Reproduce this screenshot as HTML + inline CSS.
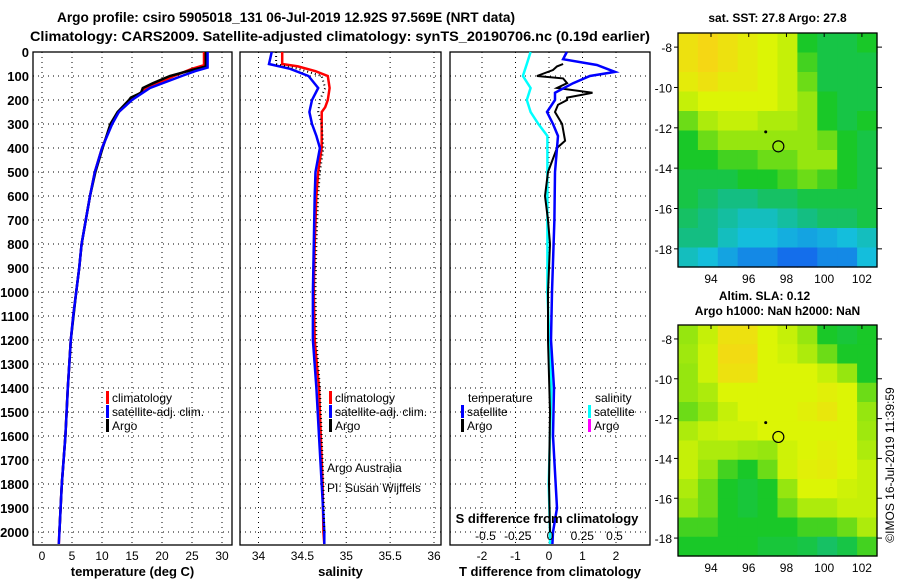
<!DOCTYPE html>
<html><head><meta charset="utf-8">
<style>
html,body{margin:0;padding:0;background:#fff;}
svg{display:block;font-family:"Liberation Sans",sans-serif;}
.b{font-weight:bold;font-size:13px;}
.l{font-size:12px;}
</style></head>
<body>
<svg id="chart" width="900" height="580" viewBox="0 0 900 580" xmlns="http://www.w3.org/2000/svg">
<text class="b" x="286" y="22" text-anchor="middle" textLength="458" lengthAdjust="spacingAndGlyphs" style="font-size:14px">Argo profile: csiro 5905018_131 06-Jul-2019 12.92S 97.569E (NRT data)</text>
<text class="b" x="340" y="41" text-anchor="middle" textLength="620" lengthAdjust="spacingAndGlyphs" style="font-size:14px">Climatology: CARS2009. Satellite-adjusted climatology: synTS_20190706.nc (0.19d earlier)</text>
<g id="g"></g>
</svg>
<script>
// ---- data ----
const depthTicks=[0,100,200,300,400,500,600,700,800,900,1000,1100,1200,1300,1400,1500,1600,1700,1800,1900,2000];
const tempTicks=[0,5,10,15,20,25,30];
const salTicks=[34,34.5,35,35.5,36];
const tdiffTicks=[-2,-1,0,1,2];
const sdiffTicks=[-0.5,-0.25,0,0.25,0.5];
const sdiffLabels=["-0.5","-0.25","0","0.25","0.5"];
const tClimD=[0,55,70,100,150,200,250,300,400,500,600,700,800,900,1000,1100,1200,1400,1600,1800,2000,2050];
const tClim=[27,27,25,22,17.5,14.8,12.8,11.6,10,8.8,8,7.3,6.6,6.2,5.7,5.2,4.8,4.3,3.9,3.3,2.9,2.8];
const tSatD=[0,65,80,100,150,200,250,300,400,500,600,700,800,900,1000,1100,1200,1400,1600,1800,2000,2050];
const tSat=[27.6,27.6,25.5,23.3,18,15,12.8,11.7,10,8.8,8,7.3,6.6,6.2,5.7,5.2,4.8,4.3,3.9,3.3,2.9,2.8];
const tArgoD=[0,60,75,100,130,150,170,190,200,250,300,370,400,500,600,700,800,900,1000,1200,1400,1600,1800,2000];
const tArgo=[27.3,27.3,25,21.3,18.5,16.8,16.5,14.8,14.5,12.6,11.4,10.5,10.1,8.9,8.0,7.3,6.6,6.2,5.7,4.8,4.3,3.9,3.3,2.9];
const sClimD=[0,50,60,80,100,150,200,230,250,300,400,500,600,800,1000,1200,1400,1600,1800,2000,2050];
const sClim=[34.27,34.27,34.45,34.65,34.79,34.81,34.79,34.76,34.72,34.72,34.72,34.68,34.66,34.64,34.63,34.64,34.69,34.71,34.73,34.74,34.75];
const sSatD=[0,50,70,100,150,200,250,300,350,400,500,600,800,1000,1200,1400,1600,1800,2000,2050];
const sSat=[34.15,34.12,34.36,34.57,34.68,34.61,34.58,34.61,34.66,34.7,34.65,34.64,34.63,34.62,34.62,34.66,34.69,34.72,34.75,34.75];
const sArgoD=[0,50,70,100,150,200,250,300,400,500,600,800,1000,1200,1400,1600,1800,2000];
const sArgo=[34.2,34.2,34.45,34.72,34.76,34.7,34.68,34.72,34.74,34.7,34.68,34.66,34.65,34.66,34.7,34.72,34.74,34.75];
const dTSatD=[0,30,54,83,100,130,170,200,250,300,350,400,500,700,1000,1200,1400,1600,1900,2000,2050];
const dTSat=[0.53,0.42,1.43,1.97,1.22,0.72,0.18,0.18,-0.06,0.12,0.27,0.24,0.18,0.16,0.09,0.06,0.15,0.12,0.24,0.12,0.1];
const dTArgoD=[50,60,75,100,110,130,150,170,190,200,220,250,300,370,400,500,600,700,800,1000,1200,1500,1800,2000];
const dTArgo=[0.42,0.24,0.12,-0.36,0.42,0.54,0.24,1.3,0.54,0.54,0.27,0.18,0.39,0.48,0.24,-0.03,-0.12,-0.03,0.03,-0.03,-0.03,0.03,0.0,0.03];
const dSSatD=[0,50,100,150,200,250,300,350,400,500,1000,1400,1800,2000,2050];
const dSSat=[-0.15,-0.18,-0.21,-0.15,-0.18,-0.15,-0.09,-0.02,-0.02,-0.02,-0.02,0.01,-0.01,0.0,0.0];
const sstLon=[92.25,102.8], sstLat=[-7.3,-18.9];
const sstGrid=[
[.85,.9,.85,.8,.75,.7,.45,.4,.4,.45],
[.85,.9,.85,.8,.75,.7,.5,.4,.4,.4],
[.8,.85,.8,.8,.75,.7,.55,.4,.4,.4],
[.7,.75,.75,.75,.75,.7,.6,.45,.4,.4],
[.55,.65,.7,.7,.65,.65,.6,.45,.4,.45],
[.45,.55,.6,.6,.6,.6,.6,.55,.45,.4],
[.45,.45,.5,.5,.55,.55,.6,.6,.45,.4],
[.4,.4,.4,.45,.45,.5,.55,.5,.45,.4],
[.4,.35,.3,.3,.35,.35,.4,.4,.4,.4],
[.35,.3,.25,.2,.2,.25,.3,.35,.35,.4],
[.3,.3,.2,.15,.15,.12,.1,.12,.15,.2],
[.2,.15,.1,.05,.05,0,0,.05,.05,.15]];
const slaGrid=[
[.6,.7,.85,.85,.75,.7,.6,.45,.42,.45],
[.62,.72,.88,.88,.75,.72,.65,.55,.45,.45],
[.6,.72,.85,.85,.75,.75,.75,.7,.6,.45],
[.6,.65,.75,.75,.75,.75,.75,.78,.75,.55],
[.55,.6,.7,.75,.75,.75,.78,.82,.75,.6],
[.65,.7,.72,.72,.75,.75,.75,.75,.75,.62],
[.7,.65,.65,.62,.6,.72,.75,.78,.75,.65],
[.7,.6,.5,.45,.55,.72,.78,.8,.75,.7],
[.65,.55,.45,.42,.45,.6,.75,.75,.72,.7],
[.6,.55,.45,.42,.45,.55,.65,.65,.7,.7],
[.5,.5,.45,.45,.45,.45,.5,.5,.55,.65],
[.45,.45,.45,.45,.42,.42,.4,.35,.4,.5]];
const lonTicks=[94,96,98,100,102];
const latTicks=[-8,-10,-12,-14,-16,-18];
const floatPos=[97.57,-12.92];
const prevPos=[96.9,-12.2];

// ---- drawing ----
const NS="http://www.w3.org/2000/svg";
const G=document.getElementById('g');
function el(tag,attrs,parent){const e=document.createElementNS(NS,tag);for(const k in attrs)e.setAttribute(k,attrs[k]);(parent||G).appendChild(e);return e;}
function txt(s,attrs){const e=el('text',attrs);e.textContent=s;return e;}
const yD=d=>52+d*0.24;
const PY0=52,PY1=545;
const panels=[
 {x0:33,x1:232,f:v=>42+6*v,ticks:tempTicks,labels:tempTicks.map(String),title:"temperature (deg C)",name:"temperature"},
 {x0:240,x1:441,f:v=>258.5+(v-34)*87.75,ticks:salTicks,labels:salTicks.map(String),title:"salinity",name:"salinity"},
 {x0:450,x1:650,f:v=>549+v*33.5,ticks:tdiffTicks,labels:tdiffTicks.map(String),title:"T difference from climatology",name:"t-difference"}];
const fS=v=>550+v*129;
panels.forEach((p,i)=>{
  const fr=el('rect',{x:p.x0,y:PY0,width:p.x1-p.x0,height:PY1-PY0,fill:'none',stroke:'#000','stroke-width':1.3});
  
  
  depthTicks.forEach(d=>{
    const ln=el('line',{x1:p.x0,x2:p.x1,y1:yD(d),y2:yD(d),stroke:'#000','stroke-dasharray':'1 4','stroke-width':1});
    
    
  });
  p.ticks.forEach((t,j)=>{
    const x=p.f(t);
    const ln=el('line',{x1:x,x2:x,y1:PY0,y2:PY1,stroke:'#000','stroke-dasharray':'1 4','stroke-width':1});
    
    
    const tl=txt(p.labels[j],{x:x,y:560,'text-anchor':'middle',class:'l'});
    
    
  });
  const tt=txt(p.title,{x:(p.x0+p.x1)/2,y:576,'text-anchor':'middle',class:'b'});
  
  
});
depthTicks.forEach(d=>{
  const t=txt(String(d),{x:29,y:yD(d)+5,'text-anchor':'end',class:'b'});
  
  
});
function line(D,V,f,color,w,name,dash){
  const pts=D.map((d,i)=>f(V[i]).toFixed(1)+','+yD(d).toFixed(1)).join(' ');
  const a={points:pts,fill:'none',stroke:color,'stroke-width':w};
  if(dash)a['stroke-dasharray']=dash;
  const e=el('polyline',a);
  
  
}
line(tClimD,tClim,panels[0].f,'#f00',2.5,'temperature-climatology-line');
line(tArgoD,tArgo,panels[0].f,'#000',2.5,'temperature-argo-line');
line(tSatD,tSat,panels[0].f,'#00f',2.5,'temperature-satellite-line');
line(sClimD,sClim,panels[1].f,'#f00',2.5,'salinity-climatology-line');
line(sSatD,sSat,panels[1].f,'#00f',2.5,'salinity-satellite-line');
line(sArgoD,sArgo,panels[1].f,'#000',2,'salinity-argo-line','1 3');
line(dSSatD,dSSat,fS,'#0ff',2.5,'s-diff-satellite-line');
line(dTArgoD,dTArgo,panels[2].f,'#000',2,'t-diff-argo-line');
line(dTSatD,dTSat,panels[2].f,'#00f',2.5,'t-diff-satellite-line');

function legend(x,y,color,label,name){
  const r=el('rect',{x:x,y:y-11,width:3,height:13,fill:color});
  
  
  const t=txt(label,{x:x+6,y:y,class:'l'});
  
  
}
legend(106,402,'#f00','climatology','legend-t-climatology');
legend(106,416,'#00f','satellite-adj. clim.','legend-t-satellite');
legend(106,430,'#000','Argo','legend-t-argo');
legend(329,402,'#f00','climatology','legend-s-climatology');
legend(329,416,'#00f','satellite-adj. clim.','legend-s-satellite');
legend(329,430,'#000','Argo','legend-s-argo');
legend(461,416,'#00f','satellite','legend-dt-satellite');
legend(461,430,'#000','Argo','legend-dt-argo');
legend(588,416,'#0ff','satellite','legend-ds-satellite');
legend(588,430,'#f0f','Argo','legend-ds-argo');
[[468,402,'temperature','legend-dt-heading'],[595,402,'salinity','legend-ds-heading'],
 [327,472,'Argo Australia','credit-argo-australia'],[327,492,'PI: Susan Wijffels','credit-pi']].forEach(a=>{
  const t=txt(a[2],{x:a[0],y:a[1],class:'l'});
  
  
});
const sdt=txt('S difference from climatology',{x:547,y:523,'text-anchor':'middle',class:'b'});


sdiffTicks.forEach((v,i)=>{
  const t=txt(sdiffLabels[i],{x:fS(v),y:540,'text-anchor':'middle',class:'l'});
  
  
});

// ---- maps ----
const stops=[[0,[20,110,235]],[0.15,[20,190,220]],[0.3,[20,190,130]],[0.45,[25,200,40]],[0.6,[150,230,15]],[0.75,[220,245,5]],[0.9,[245,215,20]],[1,[250,190,20]]];
function cmap(v){for(let i=1;i<stops.length;i++){if(v<=stops[i][0]){const a=stops[i-1],b=stops[i],t=(v-a[0])/(b[0]-a[0]);return 'rgb('+a[1].map((c,k)=>Math.round(c+(b[1][k]-c)*t)).join(',')+')';}}return 'rgb(250,190,20)';}
function drawMap(grid,x0,x1,y0,y1,name,title1,title2){
  const lx=v=>x0+(v-sstLon[0])/(sstLon[1]-sstLon[0])*(x1-x0);
  const ly=v=>y0+(v-sstLat[0])/(sstLat[1]-sstLat[0])*(y1-y0);
  const rows=grid.length,cols=grid[0].length,cw=(x1-x0)/cols,ch=(y1-y0)/rows;
  grid.forEach((row,r)=>row.forEach((v,c)=>{
    const e=el('rect',{x:x0+c*cw,y:y0+r*ch,width:cw+0.6,height:ch+0.6,fill:cmap(v)});
    
    
  }));
  const fr=el('rect',{x:x0,y:y0,width:x1-x0,height:y1-y0,fill:'none',stroke:'#000','stroke-width':1.3});
  
  
  lonTicks.forEach(v=>{
    el('line',{x1:lx(v),x2:lx(v),y1:y0,y2:y0+4,stroke:'#000'});
    const t=txt(String(v),{x:lx(v),y:y1+16,'text-anchor':'middle',class:'l'});
    
    
  });
  latTicks.forEach(v=>{
    el('line',{x1:x1,x2:x1+5,y1:ly(v),y2:ly(v),stroke:'#000'});
    el('line',{x1:x0-4,x2:x0,y1:ly(v),y2:ly(v),stroke:'#000'});
    const t=txt(String(v),{x:x0-6,y:ly(v)+5,'text-anchor':'end',class:'l'});
    
    
  });
  const c=el('circle',{cx:lx(floatPos[0]),cy:ly(floatPos[1]),r:5.5,fill:'none',stroke:'#000','stroke-width':1.2});
  
  
  const d=el('circle',{cx:lx(prevPos[0]),cy:ly(prevPos[1]),r:1.5,fill:'#000'});
  
  
  const t1=txt(title1,{x:(x0+x1)/2,y:y0-11,'text-anchor':'middle',class:'b',style:'font-size:12px'});
  
  
  if(title2){
    t1.setAttribute('y',y0-25);t1.setAttribute('x',(x0+x1)/2-13);
    const t2=txt(title2,{x:(x0+x1)/2,y:y0-10,'text-anchor':'middle',class:'b',style:'font-size:12px'});
    
    
  }
}
drawMap(sstGrid,678,877,33,267,'sst-map','sat. SST: 27.8 Argo: 27.8');
drawMap(slaGrid,678,877,325,556,'sla-map','Altim. SLA: 0.12','Argo h1000: NaN h2000: NaN');
const im=txt('©IMOS 16-Jul-2019 11:39:59',{x:0,y:0,'text-anchor':'middle',class:'l',transform:'translate(894,465) rotate(-90)'});


</script>
</body></html>
